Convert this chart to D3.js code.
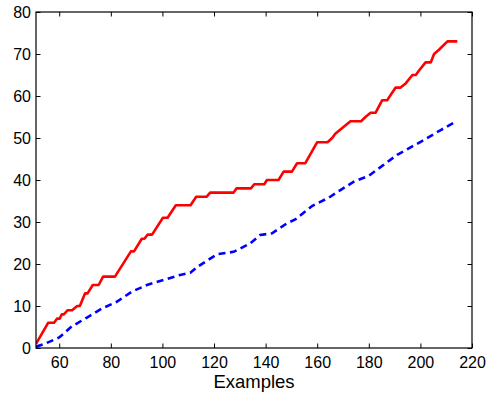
<!DOCTYPE html>
<html><head><meta charset="utf-8">
<script src="https://cdn.jsdelivr.net/npm/d3@7"></script>
<style>body{margin:0;background:#fff}svg{display:block}text{font-family:Arial,"Liberation Sans",Helvetica,sans-serif;fill:#000}</style>
</head><body><svg id="c" width="489" height="398"></svg>
<script>
const xTicks = [60, 80, 100, 120, 140, 160, 180, 200, 220];
const yTicks = [0, 10, 20, 30, 40, 50, 60, 70, 80];
const xLabel = "Examples";
// red solid series (vertices of the step-like curve)
const redX = [51, 55.7, 58, 59.2, 60.2, 61, 61.8, 63.3, 65, 67, 68, 70, 71, 73, 75.3, 77, 81.6, 87.8, 89, 92, 93, 94.3, 96, 100.2, 102, 105.2, 110.9, 113.1, 117.1, 118.5, 127.6, 128.7, 134.3, 135.6, 139.5, 140.5, 145, 147, 150.2, 152.2, 155.4, 160, 164, 165.8, 167, 169, 172.9, 177, 178.7, 180.7, 182.6, 185.2, 187.1, 190.4, 192.3, 194.3, 196.9, 198.2, 199.4, 202, 204, 205.3, 207.2, 210.5, 214.3];
const redY = [1, 6, 6, 7, 7, 8, 8, 9, 9, 10, 10, 13, 13, 15, 15, 17, 17, 23, 23, 26, 26, 27, 27, 31, 31, 34, 34, 36, 36, 37, 37, 38, 38, 39, 39, 40, 40, 42, 42, 44, 44, 49, 49, 50, 51, 52, 54, 54, 55, 56, 56, 59, 59, 62, 62, 63, 65, 65, 66, 68, 68, 70, 71, 73, 73];
// blue dashed series
const blueX = [51, 54.4, 60, 64.8, 70.6, 76.5, 82.3, 88.1, 94, 100.4, 106.9, 110.8, 114, 121.1, 127.6, 134, 137.9, 142.5, 148.3, 151.5, 158, 164.5, 169, 174.2, 180, 191, 200.1, 207.9, 214];
const blueY = [0.3, 1, 2.5, 5.1, 7.2, 9.4, 11, 13.4, 15, 16.2, 17.4, 17.9, 19.5, 22.3, 22.9, 24.9, 26.9, 27.3, 29.7, 30.6, 33.8, 35.8, 37.6, 39.6, 41, 46, 49.1, 51.9, 54];

const L = 36, R = 472, T = 12, B = 348;
const svg = d3.select("#c");
const x = d3.scaleLinear().domain([51, 220]).range([L, R]);
const y = d3.scaleLinear().domain([0, 80]).range([B, T]);
const tl = 4.5;

const line = d3.line().x(d => x(d[0])).y(d => y(d[1]));
const clip = svg.append("clipPath").attr("id","cp").append("rect").attr("x",L).attr("y",T-2).attr("width",R-L).attr("height",B-T+4);

svg.append("path").datum(blueX.map((v,i)=>[v, blueY[i]]))
  .attr("d", line).attr("fill","none").attr("stroke","#0000ff").attr("stroke-width",2.6)
  .attr("stroke-dasharray","7,4.5").attr("clip-path","url(#cp)");
svg.append("path").datum(redX.map((v,i)=>[v, redY[i]]))
  .attr("d", line).attr("fill","none").attr("stroke","#ff0000").attr("stroke-width",2.6)
  .attr("stroke-linejoin","round").attr("clip-path","url(#cp)");

// axes with inward ticks on all four sides
const g = svg.append("g").attr("font-size", 16);
const ax = [
  d3.axisBottom(x).tickValues(xTicks).tickSizeInner(-tl).tickSizeOuter(0).tickPadding(10),
];
svg.append("g").attr("transform",`translate(0,${B})`).call(d3.axisBottom(x).tickValues(xTicks).tickSizeInner(-tl).tickSizeOuter(0).tickPadding(9))
  .call(s=>{s.select(".domain").remove(); s.selectAll("text").attr("font-size",16).attr("font-family","Arial, 'Liberation Sans', sans-serif").attr("fill","#000");});
svg.append("g").attr("transform",`translate(0,${T})`).call(d3.axisTop(x).tickValues(xTicks).tickSizeInner(-tl).tickSizeOuter(0).tickFormat(""))
  .call(s=>s.select(".domain").remove());
svg.append("g").attr("transform",`translate(${L},0)`).call(d3.axisLeft(y).tickValues(yTicks).tickSizeInner(-tl).tickSizeOuter(0).tickPadding(5))
  .call(s=>{s.select(".domain").remove(); s.selectAll("text").attr("font-size",16).attr("font-family","Arial, 'Liberation Sans', sans-serif").attr("fill","#000");});
svg.append("g").attr("transform",`translate(${R},0)`).call(d3.axisRight(y).tickValues(yTicks).tickSizeInner(-tl).tickSizeOuter(0).tickFormat(""))
  .call(s=>s.select(".domain").remove());
svg.selectAll(".tick line").attr("stroke","#000");
svg.append("rect").attr("x",L).attr("y",T).attr("width",R-L).attr("height",B-T)
  .attr("fill","none").attr("stroke","#000").attr("stroke-width",1.2);

svg.append("text").attr("x",(L+R)/2).attr("y",387.5).attr("text-anchor","middle")
  .attr("font-size",18.5).text(xLabel);
</script></body></html>
